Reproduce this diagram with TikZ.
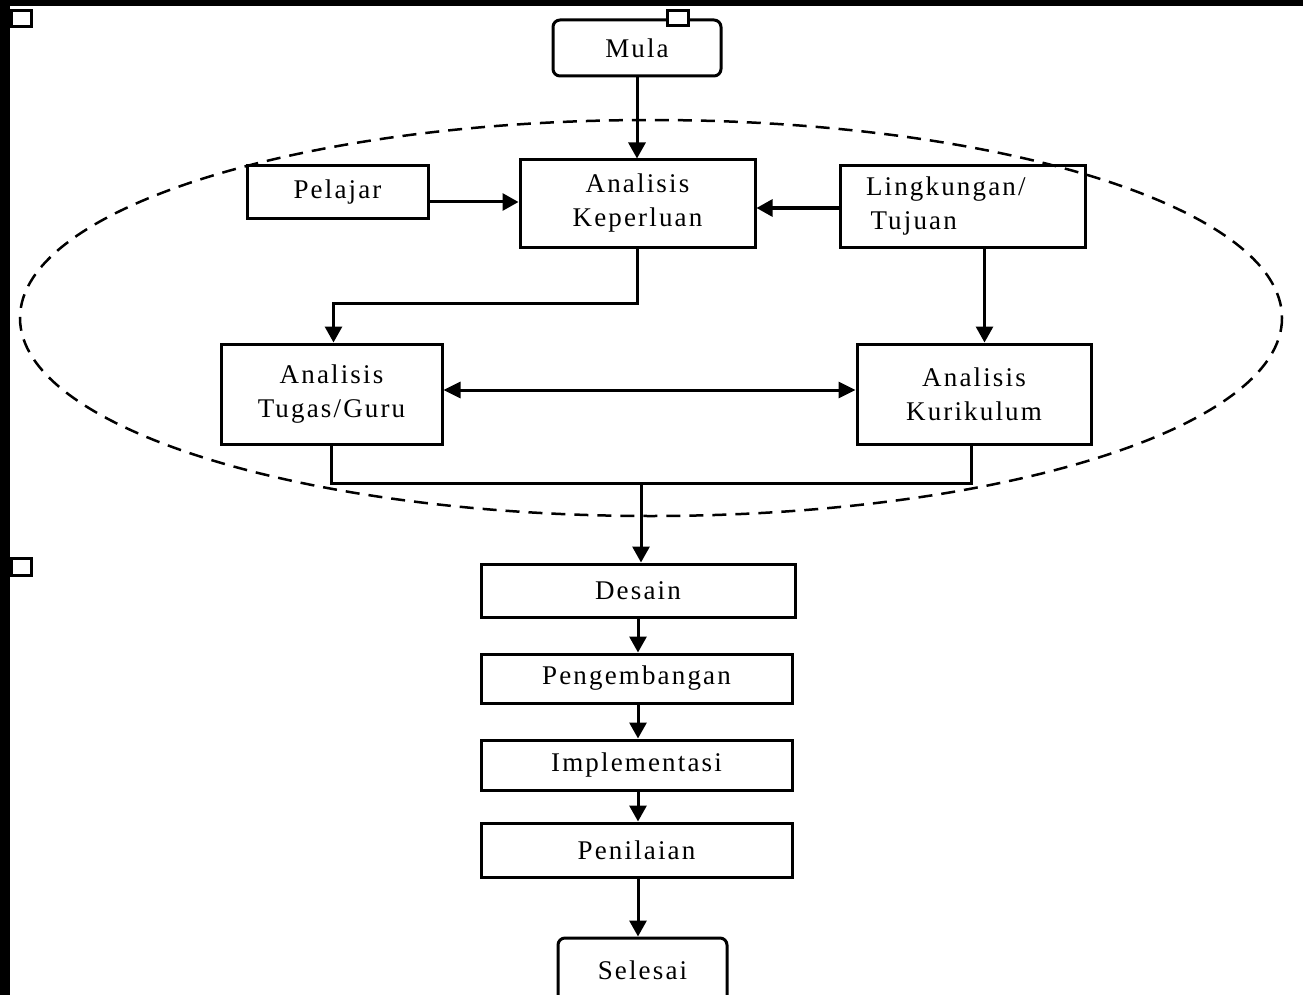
\documentclass[tikz,border=0pt]{standalone}
\usepackage{fontspec}
\setmainfont[LetterSpace=8]{Liberation Serif}
\usetikzlibrary{arrows.meta}
\tikzset{
  box/.style={draw, line width=3pt, inner sep=0pt, align=center, font=\fontsize{27}{34}\selectfont},
  term/.style={box, rounded corners=7pt},
  sq/.style={draw, line width=3pt, fill=white, inner sep=0pt},
  conn/.style={line width=3pt},
  arr/.style={conn, -{Triangle[width=17pt,length=16pt]}},
  darr/.style={conn, {Triangle[width=16pt,length=17pt]}-{Triangle[width=16pt,length=17pt]}},
  zone/.style={draw, line width=2.5pt, dash pattern=on 14pt off 9pt}
}
\begin{document}
\begin{tikzpicture}[x=1pt,y=-1pt]
\useasboundingbox (0,0) rectangle (1303,995);
\clip (0,0) rectangle (1303,995);
\fill[white] (0,0) rectangle (1303,995);
% frame strips
\fill[black] (0,0) rectangle (1303,6);
\fill[black] (0,0) rectangle (10,995);
% dashed zone
\draw[zone] (651,318) ellipse [x radius=631, y radius=198];
% nodes
\node[term, minimum width=168pt, minimum height=56pt] (mula) at (637,48) {Mula};
\node[box, minimum width=181pt, minimum height=52pt] (pel) at (337.5,192) {Pelajar};
\node[box, minimum width=235pt, minimum height=87pt] (ak) at (637.5,203.5) {Analisis\\Keperluan};
\node[box, minimum width=245pt, minimum height=81pt, text width=193pt, align=left] (ling) at (962.5,206.5) {Lingkungan/\\\,Tujuan};
\node[box, minimum width=221pt, minimum height=100pt] (tugas) at (331.5,394) {Analisis\\Tugas/Guru};
\node[box, minimum width=234pt, minimum height=100pt] (kur) at (974,394) {Analisis\\Kurikulum};
\node[box, minimum width=314pt, minimum height=53pt] (desain) at (638,590.5) {Desain};
\node[box, minimum width=311pt, minimum height=49pt] (peng) at (636.5,678.5) {Pengembangan};
\node[box, minimum width=311pt, minimum height=50pt] (impl) at (636.5,765) {Implementasi};
\node[box, minimum width=311pt, minimum height=54pt] (pen) at (636.5,850) {Penilaian};
\node[term, minimum width=169pt, minimum height=72pt, text depth=0pt] (sel) at (642.5,974) {\raisebox{7pt}{Selesai}};
% small handles
\node[sq, minimum width=20pt, minimum height=16pt] (h1) at (21.5,18.5) {};
\node[sq, minimum width=21pt, minimum height=15pt] (h2) at (678,18) {};
\node[sq, minimum width=20pt, minimum height=17pt] (h3) at (21.5,567) {};
% connectors
\draw[arr] (mula.south) -- (mula.south |- ak.north);
\draw[arr] ([yshift=-10pt]pel.east) -- ([yshift=-10pt]pel.east -| ak.west);
\draw[arr] ([yshift=-1.5pt]ling.west) -- ([yshift=-1.5pt]ling.west -| ak.east);
\draw[arr] (ak.south) -- ++(0,55) -| ([xshift=2pt]tugas.north);
\draw[arr] ([xshift=22pt]ling.south) -- ([xshift=22pt]ling.south |- kur.north);
\draw[darr] ([yshift=4pt]tugas.east) -- ([yshift=4pt]tugas.east -| kur.west);
\coordinate (j) at (641,483);
\draw[conn] (tugas.south) |- ([xshift=-3pt]kur.south |- j) -- ([xshift=-3pt]kur.south);
\draw[arr] (j) -- (j |- desain.north);
\draw[arr] (desain.south) -- (desain.south |- peng.north);
\draw[arr] ([xshift=1.5pt]peng.south) -- ([xshift=1.5pt]peng.south |- impl.north);
\draw[arr] ([xshift=1.5pt]impl.south) -- ([xshift=1.5pt]impl.south |- pen.north);
\draw[arr] ([xshift=1.5pt]pen.south) -- ([xshift=1.5pt]pen.south |- sel.north);
\end{tikzpicture}
\end{document}
